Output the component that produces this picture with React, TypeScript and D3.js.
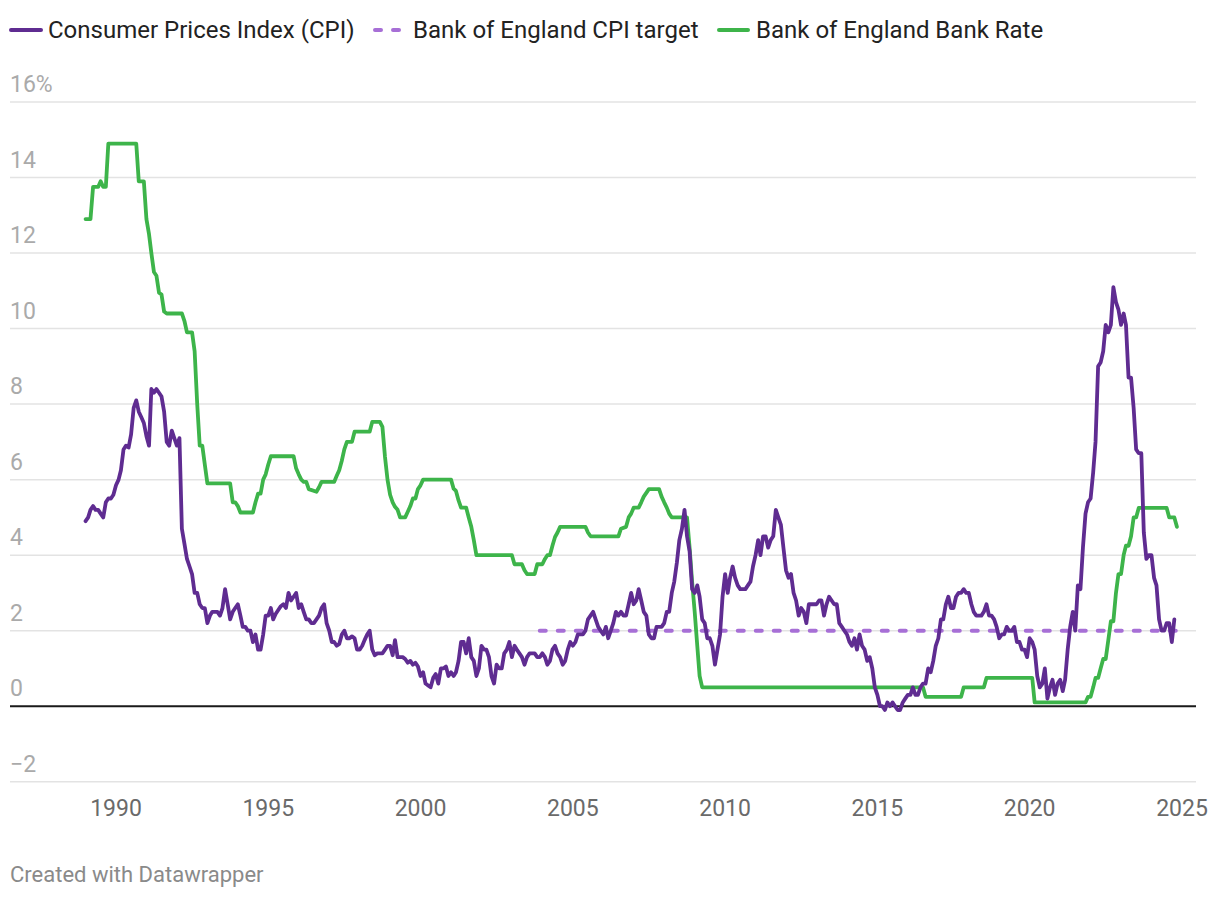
import React from "react";
import * as d3 from "d3";

// ---------- DATA ----------
// UK CPI 12-month rate, monthly from Jan 1989 (one row per year)
const cpiStart = { year: 1989, month: 1 };
const cpiValues: number[] = [
  4.9, 5.0, 5.2, 5.3, 5.2, 5.2, 5.1, 5.0, 5.4, 5.5, 5.5, 5.6, // 1989
  5.85, 6.0, 6.25, 6.8, 6.9, 6.85, 7.2, 7.9, 8.1, 7.8, 7.65, 7.5, // 1990
  7.15, 6.9, 8.4, 8.3, 8.4, 8.3, 8.2, 7.8, 7.0, 6.9, 7.3, 7.1, // 1991
  6.9, 7.1, 4.7, 4.3, 3.9, 3.7, 3.5, 3.0, 3.0, 2.7, 2.6, 2.6, // 1992
  2.2, 2.4, 2.5, 2.5, 2.5, 2.4, 2.6, 3.1, 2.7, 2.3, 2.5, 2.6, // 1993
  2.7, 2.4, 2.1, 2.1, 2.0, 2.0, 1.7, 1.9, 1.5, 1.5, 1.9, 2.4, // 1994
  2.4, 2.6, 2.3, 2.45, 2.55, 2.65, 2.7, 2.6, 3.0, 2.8, 2.9, 3.0, // 1995
  2.6, 2.7, 2.5, 2.3, 2.3, 2.2, 2.2, 2.3, 2.4, 2.6, 2.7, 2.2, // 1996
  2.0, 1.7, 1.7, 1.6, 1.65, 1.9, 2.0, 1.8, 1.8, 1.85, 1.8, 1.5, // 1997
  1.5, 1.6, 1.75, 1.9, 2.0, 1.5, 1.35, 1.4, 1.4, 1.4, 1.5, 1.6, // 1998
  1.6, 1.35, 1.75, 1.3, 1.3, 1.3, 1.25, 1.15, 1.2, 1.1, 1.15, 1.05, // 1999
  0.8, 0.9, 0.6, 0.55, 0.5, 0.75, 0.85, 0.6, 1.0, 1.0, 1.05, 0.8, // 2000
  0.9, 0.8, 0.9, 1.2, 1.7, 1.7, 1.4, 1.8, 1.3, 1.2, 0.8, 1.0, // 2001
  1.6, 1.5, 1.5, 1.3, 0.8, 0.6, 1.1, 1.0, 1.0, 1.4, 1.5, 1.7, // 2002
  1.3, 1.6, 1.5, 1.4, 1.3, 1.1, 1.3, 1.4, 1.4, 1.4, 1.3, 1.3, // 2003
  1.4, 1.3, 1.1, 1.2, 1.5, 1.6, 1.4, 1.3, 1.1, 1.2, 1.5, 1.7, // 2004
  1.6, 1.7, 1.9, 1.9, 1.9, 2.0, 2.3, 2.4, 2.5, 2.3, 2.1, 2.0, // 2005
  1.9, 2.1, 1.8, 2.0, 2.2, 2.5, 2.4, 2.5, 2.4, 2.4, 2.7, 3.0, // 2006
  2.7, 2.8, 3.1, 2.8, 2.5, 2.4, 1.9, 1.8, 1.8, 2.1, 2.1, 2.1, // 2007
  2.2, 2.5, 2.5, 3.0, 3.3, 3.8, 4.4, 4.7, 5.2, 4.5, 4.1, 3.1, // 2008
  3.0, 3.2, 2.9, 2.3, 2.2, 1.8, 1.8, 1.6, 1.1, 1.5, 1.9, 2.9, // 2009
  3.5, 3.0, 3.4, 3.7, 3.4, 3.2, 3.1, 3.1, 3.1, 3.2, 3.3, 3.7, // 2010
  4.0, 4.4, 4.0, 4.5, 4.5, 4.2, 4.4, 4.5, 5.2, 5.0, 4.8, 4.2, // 2011
  3.6, 3.4, 3.5, 3.0, 2.8, 2.4, 2.6, 2.5, 2.2, 2.7, 2.7, 2.7, // 2012
  2.7, 2.8, 2.8, 2.4, 2.7, 2.9, 2.8, 2.7, 2.7, 2.2, 2.1, 2.0, // 2013
  1.9, 1.7, 1.6, 1.8, 1.5, 1.9, 1.6, 1.5, 1.2, 1.3, 1.0, 0.5, // 2014
  0.3, 0.0, 0.0, -0.1, 0.1, 0.0, 0.1, 0.0, -0.1, -0.1, 0.1, 0.2, // 2015
  0.3, 0.3, 0.5, 0.3, 0.3, 0.5, 0.6, 0.6, 1.0, 0.9, 1.2, 1.6, // 2016
  1.8, 2.3, 2.3, 2.7, 2.9, 2.6, 2.6, 2.9, 3.0, 3.0, 3.1, 3.0, // 2017
  3.0, 2.7, 2.5, 2.4, 2.4, 2.4, 2.5, 2.7, 2.4, 2.4, 2.3, 2.1, // 2018
  1.8, 1.9, 1.9, 2.1, 2.0, 2.0, 2.1, 1.7, 1.7, 1.5, 1.5, 1.3, // 2019
  1.8, 1.7, 1.5, 0.8, 0.5, 0.6, 1.0, 0.2, 0.5, 0.7, 0.3, 0.6, // 2020
  0.7, 0.4, 0.7, 1.5, 2.1, 2.5, 2.0, 3.2, 3.1, 4.2, 5.1, 5.4, // 2021
  5.5, 6.2, 7.0, 9.0, 9.1, 9.4, 10.1, 9.9, 10.1, 11.1, 10.7, 10.5, // 2022
  10.1, 10.4, 10.1, 8.7, 8.7, 7.9, 6.8, 6.7, 6.7, 4.6, 3.9, 4.0, // 2023
  4.0, 3.4, 3.2, 2.3, 2.0, 2.0, 2.2, 2.2, 1.7, 2.3, // 2024
];

// Bank of England Bank Rate: points where the line changes direction
const bankRatePoints: [string, number][] = [
  ["1989-01", 12.9], ["1989-03", 12.9], ["1989-04", 13.75], ["1989-06", 13.75],
  ["1989-07", 13.9], ["1989-08", 13.75], ["1989-09", 13.75], ["1989-10", 14.9],
  ["1990-09", 14.9], ["1990-10", 13.9], ["1990-12", 13.9], ["1991-01", 12.9],
  ["1991-02", 12.5], ["1991-03", 12.0], ["1991-04", 11.5], ["1991-05", 11.4],
  ["1991-06", 10.95], ["1991-07", 10.9], ["1991-08", 10.45], ["1991-09", 10.4],
  ["1992-03", 10.4], ["1992-04", 10.2], ["1992-05", 9.9], ["1992-07", 9.9],
  ["1992-08", 9.4], ["1992-09", 8.0], ["1992-10", 6.9], ["1992-11", 6.9],
  ["1992-12", 6.4], ["1993-01", 5.9], ["1993-10", 5.9], ["1993-11", 5.4],
  ["1993-12", 5.4], ["1994-01", 5.3], ["1994-02", 5.13], ["1994-07", 5.13],
  ["1994-08", 5.4], ["1994-09", 5.63], ["1994-10", 5.63], ["1994-11", 6.0],
  ["1994-12", 6.14], ["1995-01", 6.4], ["1995-02", 6.62], ["1995-11", 6.62],
  ["1995-12", 6.3], ["1996-01", 6.14], ["1996-02", 6.0], ["1996-03", 5.94],
  ["1996-04", 5.94], ["1996-05", 5.75], ["1996-08", 5.68], ["1996-09", 5.8],
  ["1996-10", 5.94], ["1997-03", 5.94], ["1997-04", 6.1], ["1997-05", 6.25],
  ["1997-06", 6.5], ["1997-07", 6.8], ["1997-08", 7.0], ["1997-10", 7.0],
  ["1997-11", 7.27], ["1998-05", 7.27], ["1998-06", 7.53], ["1998-09", 7.53],
  ["1998-10", 7.4], ["1998-11", 6.6], ["1998-12", 6.0], ["1999-01", 5.6],
  ["1999-02", 5.4], ["1999-03", 5.28], ["1999-04", 5.2], ["1999-05", 5.0],
  ["1999-07", 5.0], ["1999-08", 5.15], ["1999-09", 5.3], ["1999-10", 5.5],
  ["1999-11", 5.5], ["1999-12", 5.75], ["2000-01", 5.85], ["2000-02", 6.0],
  ["2001-01", 6.0], ["2001-02", 5.76], ["2001-03", 5.7], ["2001-04", 5.45],
  ["2001-05", 5.26], ["2001-07", 5.26], ["2001-08", 5.0], ["2001-09", 4.75],
  ["2001-10", 4.4], ["2001-11", 4.0], ["2003-01", 4.0], ["2003-02", 3.76],
  ["2003-05", 3.76], ["2003-06", 3.6], ["2003-07", 3.5], ["2003-10", 3.5],
  ["2003-11", 3.76], ["2004-01", 3.76], ["2004-02", 3.9], ["2004-03", 4.0],
  ["2004-04", 4.0], ["2004-05", 4.25], ["2004-06", 4.48], ["2004-07", 4.6],
  ["2004-08", 4.75], ["2005-06", 4.75], ["2005-07", 4.6], ["2005-08", 4.5],
  ["2006-07", 4.5], ["2006-08", 4.7], ["2006-10", 4.75], ["2006-11", 5.0],
  ["2006-12", 5.1], ["2007-01", 5.26], ["2007-03", 5.26], ["2007-04", 5.4],
  ["2007-05", 5.55], ["2007-06", 5.65], ["2007-07", 5.75], ["2007-11", 5.75],
  ["2007-12", 5.55], ["2008-01", 5.4], ["2008-02", 5.26], ["2008-03", 5.1],
  ["2008-04", 5.0], ["2008-10", 5.0], ["2008-11", 4.2], ["2008-12", 3.3],
  ["2009-01", 2.5], ["2009-02", 1.6], ["2009-03", 0.8], ["2009-04", 0.5],
  ["2016-07", 0.5], ["2016-08", 0.25], ["2017-10", 0.25], ["2017-11", 0.5],
  ["2018-07", 0.5], ["2018-08", 0.75], ["2020-02", 0.75], ["2020-03", 0.1],
  ["2021-11", 0.1], ["2021-12", 0.25], ["2022-01", 0.25], ["2022-02", 0.5],
  ["2022-03", 0.75], ["2022-04", 0.75], ["2022-05", 1.0], ["2022-06", 1.25],
  ["2022-07", 1.25], ["2022-08", 1.75], ["2022-09", 2.25], ["2022-10", 2.25],
  ["2022-11", 3.0], ["2022-12", 3.5], ["2023-01", 3.5], ["2023-02", 4.0],
  ["2023-03", 4.25], ["2023-04", 4.25], ["2023-05", 4.5], ["2023-06", 5.0],
  ["2023-07", 5.0], ["2023-08", 5.25], ["2024-07", 5.25], ["2024-08", 5.0],
  ["2024-10", 5.0], ["2024-11", 4.75],
];

const cpiTarget: [string, number][] = [["2003-12", 2], ["2024-11", 2]];

const yTicks = [-2, 0, 2, 4, 6, 8, 10, 12, 14, 16];
const xTickYears = [1990, 1995, 2000, 2005, 2010, 2015, 2020, 2025];

const legendLabels = [
  "Consumer Prices Index (CPI)",
  "Bank of England CPI target",
  "Bank of England Bank Rate",
];
const footerText = "Created with Datawrapper";

// ---------- STYLE ----------
const W = 1220;
const H = 898;
const COLOR_CPI = "#5f2c91";
const COLOR_TARGET = "#a76fd6";
const COLOR_RATE = "#3db44a";
const FONT = "Roboto, 'Noto Sans', sans-serif";

const parseYM = (s: string) => {
  const [y, m] = s.split("-").map(Number);
  return new Date(y, m - 1, 1);
};

export default function App() {
  const x = d3
    .scaleTime()
    .domain([new Date(1990, 0, 1), new Date(2025, 0, 1)])
    .range([116, 1182]);
  const y = d3.scaleLinear().domain([-2, 16]).range([781.75, 102]);

  const gridLeft = 10;
  const gridRight = 1196;

  const cpiData = cpiValues.map((v, i) => ({
    date: new Date(cpiStart.year, cpiStart.month - 1 + i, 1),
    value: v,
  }));
  const rateData = bankRatePoints.map(([d, v]) => ({ date: parseYM(d), value: v }));
  const targetData = cpiTarget.map(([d, v]) => ({ date: parseYM(d), value: v }));

  const line = d3
    .line<{ date: Date; value: number }>()
    .x((d) => x(d.date))
    .y((d) => y(d.value));

  const legendX = [10, 373, 718];

  return (
    <svg
      width={W}
      height={H}
      style={{ position: "absolute", left: 0, top: 0, background: "#fff" }}
      fontFamily={FONT}
    >
      <rect x={0} y={0} width={W} height={H} fill="#fff" />

      {/* Legend */}
      <g>
        <line x1={legendX[0] + 1} x2={legendX[0] + 31} y1={30} y2={30} stroke={COLOR_CPI} strokeWidth={4} strokeLinecap="round" />
        <text x={legendX[0] + 38} y={38} fontSize={24} fill="#222">{legendLabels[0]}</text>
        <line x1={legendX[1] + 2} x2={legendX[1] + 29} y1={30} y2={30} stroke={COLOR_TARGET} strokeWidth={4} strokeLinecap="round" strokeDasharray="6 12" />
        <text x={legendX[1] + 40} y={38} fontSize={24} fill="#222">{legendLabels[1]}</text>
        <line x1={legendX[2] + 1} x2={legendX[2] + 30} y1={30} y2={30} stroke={COLOR_RATE} strokeWidth={4} strokeLinecap="round" />
        <text x={legendX[2] + 38} y={38} fontSize={24} fill="#222">{legendLabels[2]}</text>
      </g>

      {/* Gridlines and y labels */}
      <g>
        {yTicks.map((t) =>
          t === 0 ? null : (
            <line key={"g" + t} x1={gridLeft} x2={gridRight} y1={y(t)} y2={y(t)} stroke="#e3e3e3" strokeWidth={1.5} />
          )
        )}
        {yTicks.map((t, i) => (
          <text key={"l" + t} x={gridLeft} y={y(t) - 10} fontSize={23} fill="#aaaaaa">
            {(t < 0 ? "\u2212" + Math.abs(t) : String(t)) + (i === yTicks.length - 1 ? "%" : "")}
          </text>
        ))}
        <line x1={gridLeft} x2={gridRight} y1={y(0)} y2={y(0)} stroke="#1a1a1a" strokeWidth={2} />
      </g>

      {/* X labels */}
      <g>
        {xTickYears.map((yr) => (
          <text key={yr} x={x(new Date(yr, 0, 1))} y={816} fontSize={23} fill="#6a6a6a" textAnchor="middle">
            {yr}
          </text>
        ))}
      </g>

      {/* Series */}
      <path d={line(targetData) || ""} fill="none" stroke={COLOR_TARGET} strokeWidth={4} strokeDasharray="6 12" strokeLinecap="round" />
      <path d={line(rateData) || ""} fill="none" stroke={COLOR_RATE} strokeWidth={3.8} strokeLinejoin="round" strokeLinecap="round" />
      <path d={line(cpiData) || ""} fill="none" stroke={COLOR_CPI} strokeWidth={3.8} strokeLinejoin="round" strokeLinecap="round" />

      {/* Footer */}
      <text x={10} y={882} fontSize={22} fill="#8a8a8a">{footerText}</text>
    </svg>
  );
}
